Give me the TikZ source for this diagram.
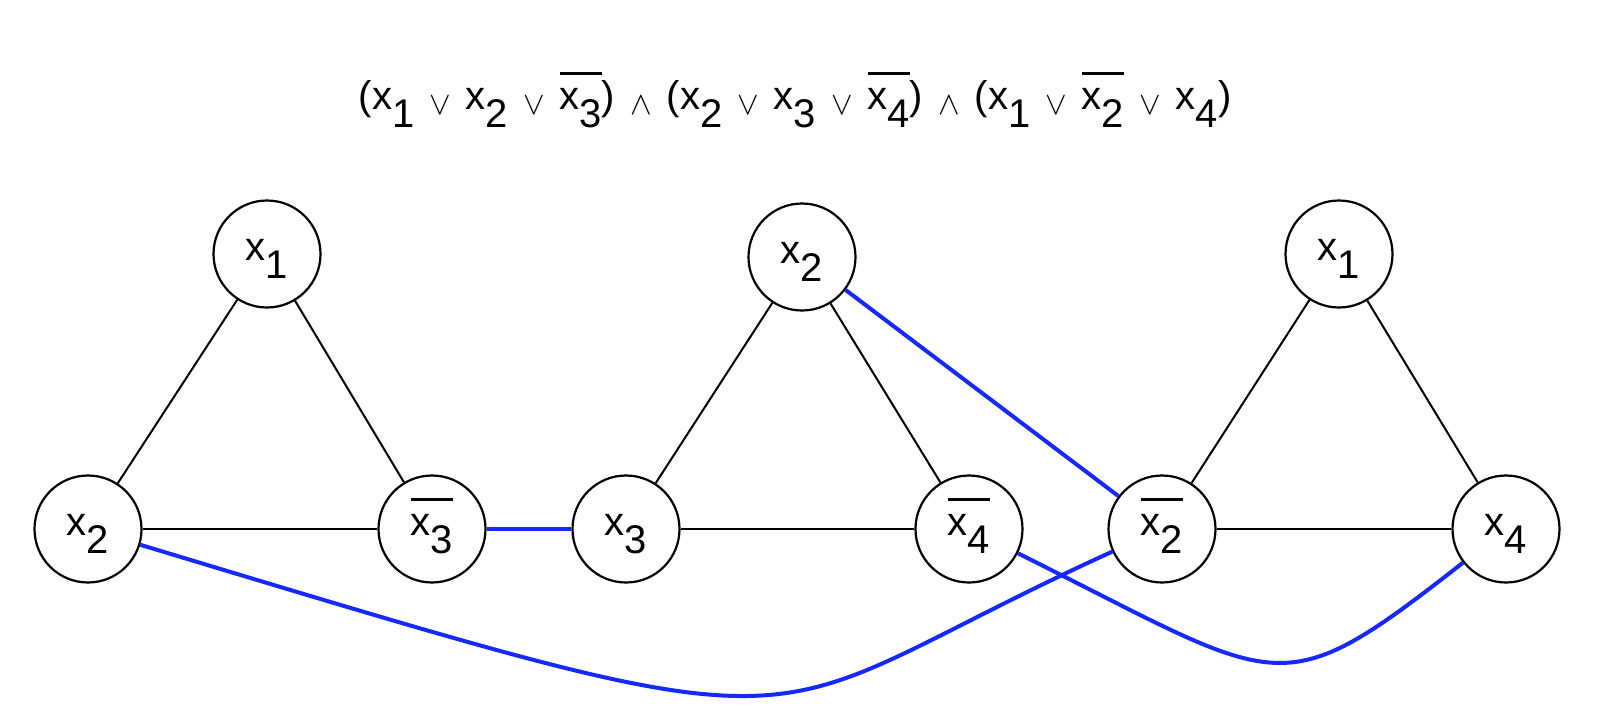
\documentclass[tikz,border=0pt]{standalone}
\usepackage{fontspec}
\setmainfont{Liberation Sans}
\definecolor{linkblue}{RGB}{20,40,255}
\newcommand{\sbx}[1]{x\raisebox{-0.45em}{#1}}
\newcommand{\nbx}[1]{\setbox0\hbox{\sbx{#1}}\rlap{\rule[0.86em]{\wd0}{0.075em}}\box0}
\newcommand{\opsym}[1]{\hspace{15pt}\raisebox{-5pt}{\scalebox{1.3}{\fontsize{24.88}{30}\selectfont$#1$}}\hspace{15pt}}
\newcommand{\orr}{\opsym{\vee}}
\newcommand{\andd}{\opsym{\wedge}}
\begin{document}
\begin{tikzpicture}[x=1pt,y=-1pt,
  lit/.style={circle,draw,line width=2.2pt,minimum size=107pt,inner sep=0pt,
    font=\fontsize{40}{48}\selectfont,text height=30pt,text depth=18pt},
  edge/.style={line width=2pt},
  link/.style={line width=4pt,draw=linkblue}]
\useasboundingbox (0,0) rectangle (1612,713);
\node[anchor=base,font=\fontsize{40}{48}\selectfont,inner sep=0pt] (f) at (795,109)
  {(\sbx{1}\orr\sbx{2}\orr\nbx{3})\andd(\sbx{2}\orr\sbx{3}\orr\nbx{4})\andd(\sbx{1}\orr\nbx{2}\orr\sbx{4})};
\node[lit] (a1) at (267,254) {\sbx{1}};
\node[lit] (a2) at (88,529) {\sbx{2}};
\node[lit] (a3) at (432,529) {\nbx{3}};
\node[lit] (b2) at (802,257) {\sbx{2}};
\node[lit] (b3) at (626,529) {\sbx{3}};
\node[lit] (b4) at (969,529) {\nbx{4}};
\node[lit] (c1) at (1339,254) {\sbx{1}};
\node[lit] (c2) at (1162,529) {\nbx{2}};
\node[lit] (c4) at (1506,529) {\sbx{4}};
\draw[edge] (a1) -- (a2);
\draw[edge] (a1) -- (a3);
\draw[edge] (a2) -- (a3);
\draw[edge] (b2) -- (b3);
\draw[edge] (b2) -- (b4);
\draw[edge] (b3) -- (b4);
\draw[edge] (c1) -- (c2);
\draw[edge] (c1) -- (c4);
\draw[edge] (c2) -- (c4);
\draw[link] (a3) -- (b3);
\draw[link] (b2) -- (c2);
\draw[link] (a2) .. controls (867,764) and (729,726) .. (c2);
\draw[link] (b4) .. controls (1285,686) and (1276,709) .. (c4);
\end{tikzpicture}
\end{document}
